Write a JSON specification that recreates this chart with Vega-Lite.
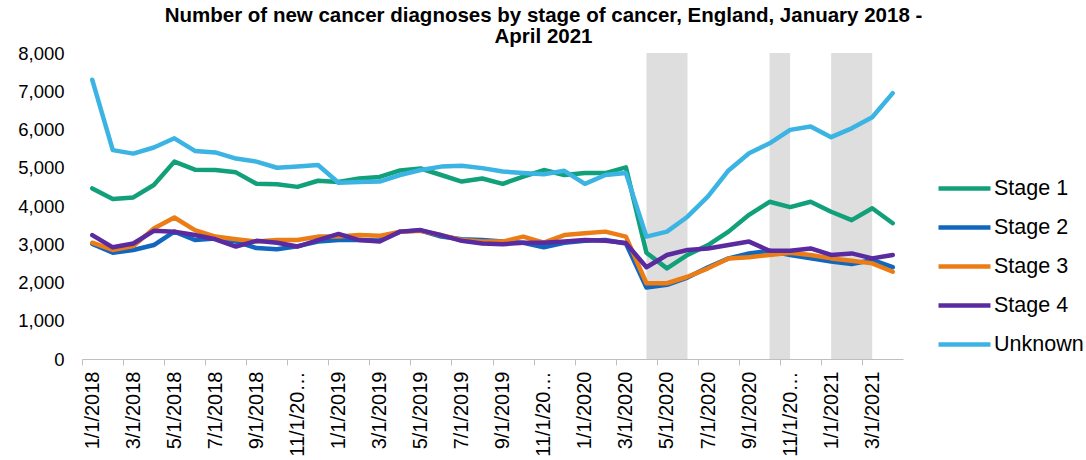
{
  "$schema": "https://vega.github.io/schema/vega-lite/v6.json",
  "width": 821,
  "height": 306,
  "autosize": {"type": "none"},
  "padding": {"left": 82, "top": 53, "right": 183, "bottom": 101},
  "background": "#ffffff",
  "config": {"font": "Liberation Sans", "view": {"stroke": null}},
  "title": {
    "text": ["Number of new cancer diagnoses by stage of cancer, England, January 2018 -", "April 2021"],
    "fontSize": 20.5,
    "fontWeight": "bold",
    "color": "#000000",
    "anchor": "middle",
    "frame": "group",
    "dx": 51,
    "offset": -3,
    "lineHeight": 21
  },
  "layer": [
    {
      "data": {"values": [
        {"start": "2020-04-01", "end": "2020-06-01"},
        {"start": "2020-10-01", "end": "2020-11-01"},
        {"start": "2021-01-01", "end": "2021-03-01"}
      ]},
      "mark": {"type": "rect", "color": "#dedede"},
      "encoding": {
        "x": {"field": "start", "type": "ordinal", "timeUnit": "utcyearmonth",
              "scale": {"type": "point", "padding": 0.5}},
        "x2": {"field": "end", "timeUnit": "utcyearmonth"},
        "y": {"datum": 0, "type": "quantitative",
              "scale": {"domain": [0, 8000], "nice": false},
              "axis": {
                "title": null,
                "values": [0, 1000, 2000, 3000, 4000, 5000, 6000, 7000, 8000],
                "labelExpr": "datum.value >= 1000 ? floor(datum.value / 1000) + ',000' : '' + datum.value",
                "labelFontSize": 18.5,
                "labelColor": "#000000",
                "labelPadding": 18,
                "labelOverlap": false,
                "ticks": false,
                "domain": false,
                "gridColor": "#d9d9d9",
                "gridWidth": 1.5
              }},
        "y2": {"datum": 8000}
      }
    },
    {
      "data": {"values": [
        {"month": "2018-01-01", "Stage 1": 4460, "Stage 2": 3010, "Stage 3": 3040, "Stage 4": 3240, "Unknown": 7300},
        {"month": "2018-02-01", "Stage 1": 4180, "Stage 2": 2780, "Stage 3": 2850, "Stage 4": 2920, "Unknown": 5460},
        {"month": "2018-03-01", "Stage 1": 4225, "Stage 2": 2850, "Stage 3": 2950, "Stage 4": 3020, "Unknown": 5370},
        {"month": "2018-04-01", "Stage 1": 4550, "Stage 2": 2980, "Stage 3": 3410, "Stage 4": 3350, "Unknown": 5530},
        {"month": "2018-05-01", "Stage 1": 5160, "Stage 2": 3330, "Stage 3": 3700, "Stage 4": 3330, "Unknown": 5770},
        {"month": "2018-06-01", "Stage 1": 4950, "Stage 2": 3110, "Stage 3": 3370, "Stage 4": 3240, "Unknown": 5440},
        {"month": "2018-07-01", "Stage 1": 4940, "Stage 2": 3150, "Stage 3": 3200, "Stage 4": 3130, "Unknown": 5400},
        {"month": "2018-08-01", "Stage 1": 4880, "Stage 2": 3070, "Stage 3": 3130, "Stage 4": 2940, "Unknown": 5240},
        {"month": "2018-09-01", "Stage 1": 4580, "Stage 2": 2900, "Stage 3": 3070, "Stage 4": 3090, "Unknown": 5160},
        {"month": "2018-10-01", "Stage 1": 4570, "Stage 2": 2870, "Stage 3": 3110, "Stage 4": 3040, "Unknown": 5000},
        {"month": "2018-11-01", "Stage 1": 4500, "Stage 2": 2950, "Stage 3": 3110, "Stage 4": 2940, "Unknown": 5030},
        {"month": "2018-12-01", "Stage 1": 4660, "Stage 2": 3070, "Stage 3": 3200, "Stage 4": 3110, "Unknown": 5070},
        {"month": "2019-01-01", "Stage 1": 4630, "Stage 2": 3110, "Stage 3": 3200, "Stage 4": 3270, "Unknown": 4610},
        {"month": "2019-02-01", "Stage 1": 4720, "Stage 2": 3110, "Stage 3": 3240, "Stage 4": 3110, "Unknown": 4630},
        {"month": "2019-03-01", "Stage 1": 4760, "Stage 2": 3100, "Stage 3": 3220, "Stage 4": 3070, "Unknown": 4640},
        {"month": "2019-04-01", "Stage 1": 4930, "Stage 2": 3330, "Stage 3": 3330, "Stage 4": 3330, "Unknown": 4810},
        {"month": "2019-05-01", "Stage 1": 4980, "Stage 2": 3360, "Stage 3": 3350, "Stage 4": 3370, "Unknown": 4940},
        {"month": "2019-06-01", "Stage 1": 4810, "Stage 2": 3200, "Stage 3": 3240, "Stage 4": 3240, "Unknown": 5030},
        {"month": "2019-07-01", "Stage 1": 4640, "Stage 2": 3130, "Stage 3": 3110, "Stage 4": 3090, "Unknown": 5050},
        {"month": "2019-08-01", "Stage 1": 4720, "Stage 2": 3110, "Stage 3": 3070, "Stage 4": 3020, "Unknown": 4990},
        {"month": "2019-09-01", "Stage 1": 4580, "Stage 2": 3070, "Stage 3": 3070, "Stage 4": 3000, "Unknown": 4900},
        {"month": "2019-10-01", "Stage 1": 4770, "Stage 2": 3040, "Stage 3": 3200, "Stage 4": 3040, "Unknown": 4860},
        {"month": "2019-11-01", "Stage 1": 4940, "Stage 2": 2920, "Stage 3": 3040, "Stage 4": 3040, "Unknown": 4830},
        {"month": "2019-12-01", "Stage 1": 4810, "Stage 2": 3040, "Stage 3": 3240, "Stage 4": 3070, "Unknown": 4920},
        {"month": "2020-01-01", "Stage 1": 4860, "Stage 2": 3090, "Stage 3": 3290, "Stage 4": 3110, "Unknown": 4580},
        {"month": "2020-02-01", "Stage 1": 4860, "Stage 2": 3110, "Stage 3": 3330, "Stage 4": 3090, "Unknown": 4810},
        {"month": "2020-03-01", "Stage 1": 5010, "Stage 2": 3020, "Stage 3": 3200, "Stage 4": 3030, "Unknown": 4860},
        {"month": "2020-04-01", "Stage 1": 2780, "Stage 2": 1870, "Stage 3": 1980, "Stage 4": 2400, "Unknown": 3200},
        {"month": "2020-05-01", "Stage 1": 2370, "Stage 2": 1940, "Stage 3": 1980, "Stage 4": 2720, "Unknown": 3330},
        {"month": "2020-06-01", "Stage 1": 2720, "Stage 2": 2130, "Stage 3": 2150, "Stage 4": 2850, "Unknown": 3720},
        {"month": "2020-07-01", "Stage 1": 2980, "Stage 2": 2400, "Stage 3": 2370, "Stage 4": 2890, "Unknown": 4250},
        {"month": "2020-08-01", "Stage 1": 3330, "Stage 2": 2630, "Stage 3": 2630, "Stage 4": 2980, "Unknown": 4930},
        {"month": "2020-09-01", "Stage 1": 3770, "Stage 2": 2760, "Stage 3": 2660, "Stage 4": 3070, "Unknown": 5380},
        {"month": "2020-10-01", "Stage 1": 4110, "Stage 2": 2830, "Stage 3": 2720, "Stage 4": 2830, "Unknown": 5640},
        {"month": "2020-11-01", "Stage 1": 3970, "Stage 2": 2720, "Stage 3": 2780, "Stage 4": 2830, "Unknown": 5990},
        {"month": "2020-12-01", "Stage 1": 4110, "Stage 2": 2630, "Stage 3": 2720, "Stage 4": 2890, "Unknown": 6080},
        {"month": "2021-01-01", "Stage 1": 3850, "Stage 2": 2550, "Stage 3": 2630, "Stage 4": 2720, "Unknown": 5800},
        {"month": "2021-02-01", "Stage 1": 3630, "Stage 2": 2480, "Stage 3": 2570, "Stage 4": 2760, "Unknown": 6030},
        {"month": "2021-03-01", "Stage 1": 3940, "Stage 2": 2590, "Stage 3": 2500, "Stage 4": 2630, "Unknown": 6320},
        {"month": "2021-04-01", "Stage 1": 3550, "Stage 2": 2400, "Stage 3": 2280, "Stage 4": 2720, "Unknown": 6950}
      ]},
      "transform": [{"fold": ["Stage 1", "Stage 2", "Stage 3", "Stage 4", "Unknown"], "as": ["stage", "count"]}],
      "mark": {"type": "line", "strokeWidth": 4.5, "strokeJoin": "round", "strokeCap": "round"},
      "encoding": {
        "x": {
          "field": "month", "type": "ordinal", "timeUnit": "utcyearmonth",
          "scale": {"type": "point", "padding": 0.5},
          "axis": {
            "title": null,
            "grid": false,
            "labelAngle": -90,
            "labelFontSize": 20,
            "labelColor": "#000000",
            "labelPadding": 6,
            "labelExpr": "utcmonth(datum.value) % 2 == 0 ? (utcmonth(datum.value) == 10 ? '11/1/20…' : utcFormat(datum.value, '%-m/%-d/%Y')) : ''",
            "tickOffset": -10.26,
            "labelOffset": 10.26,
            "tickSize": 6,
            "tickColor": "#bfbfbf",
            "tickOpacity": {"condition": {"test": "utcmonth(datum.value) % 2 == 0", "value": 1}, "value": 0},
            "domainColor": "#bfbfbf",
            "labelOverlap": false
          }
        },
        "y": {
          "field": "count", "type": "quantitative",
          "scale": {"domain": [0, 8000], "nice": false},
          "axis": {
            "title": null,
            "values": [0, 1000, 2000, 3000, 4000, 5000, 6000, 7000, 8000],
            "labelExpr": "datum.value >= 1000 ? floor(datum.value / 1000) + ',000' : '' + datum.value",
            "labelFontSize": 18.5,
            "labelColor": "#000000",
            "labelPadding": 18,
            "labelOverlap": false,
            "ticks": false,
            "domain": false,
            "gridColor": "#d9d9d9",
            "gridWidth": 1.5
          }
        },
        "color": {
          "field": "stage", "type": "nominal",
          "scale": {
            "domain": ["Stage 1", "Stage 2", "Stage 3", "Stage 4", "Unknown"],
            "range": ["#12a07a", "#1167be", "#ec7d16", "#5a2aa0", "#3bb4e4"]
          },
          "legend": {
            "title": null,
            "orient": "none",
            "legendX": 854,
            "legendY": 107,
            "symbolType": "stroke",
            "symbolStrokeWidth": 4.5,
            "symbolSize": 2700,
            "labelFontSize": 21.5,
            "labelColor": "#000000",
            "labelOffset": 1,
            "rowPadding": -1.5
          }
        }
      }
    }
  ]
}
